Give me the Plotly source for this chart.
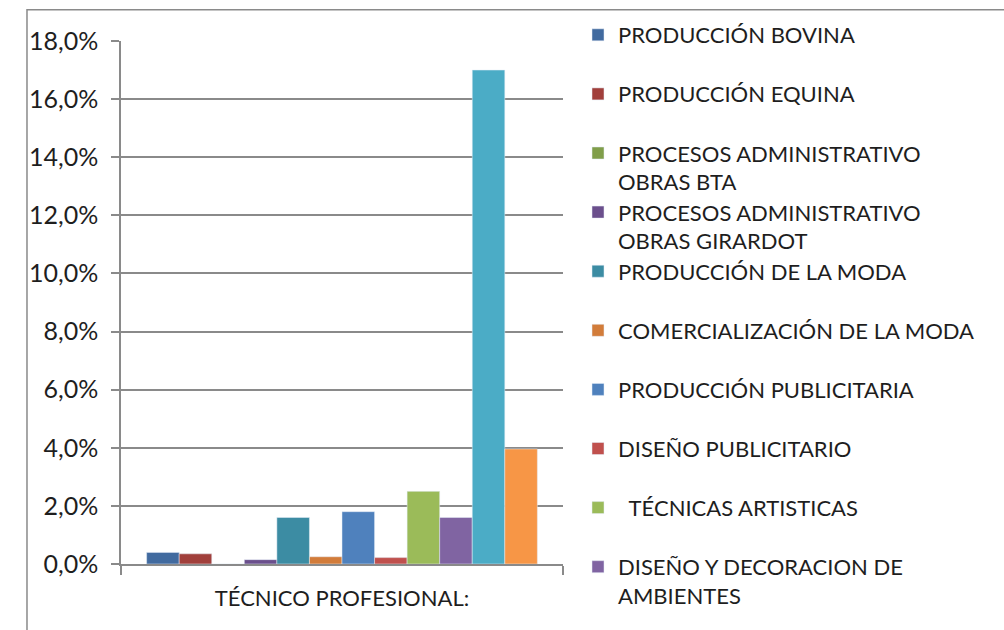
import plotly.graph_objects as go

categoria = ["TÉCNICO PROFESIONAL:"]

programas = [
    "PRODUCCIÓN BOVINA",
    "PRODUCCIÓN EQUINA",
    "PROCESOS ADMINISTRATIVO<br>OBRAS BTA",
    "PROCESOS ADMINISTRATIVO<br>OBRAS GIRARDOT",
    "PRODUCCIÓN DE LA MODA",
    "COMERCIALIZACIÓN DE LA MODA",
    "PRODUCCIÓN PUBLICITARIA",
    "DISEÑO PUBLICITARIO",
    "  TÉCNICAS ARTISTICAS",
    "DISEÑO Y DECORACION DE<br>AMBIENTES",
    "Serie 11",
    "Serie 12",
]
# porcentaje (%)
valores = [0.4, 0.35, 0.0, 0.15, 1.6, 0.25, 1.8, 0.22, 2.5, 1.6, 17.0, 3.96]

colores = [
    "#416A9F", "#A13F3B", "#809E4A", "#6B4F8C", "#3C8CA3", "#D27C3A",
    "#4F81BD", "#C0504D", "#9BBB59", "#8064A2", "#4BACC6", "#F79646",
]

GRIS = "#8A8A8A"
FUENTE = "Lato, Arial, sans-serif"

fig = go.Figure()
n_leyenda = 10
for i, (nombre, v, c) in enumerate(zip(programas, valores, colores)):
    ley = "legend" if i == 0 else f"legend{i + 1}"
    fig.add_trace(go.Bar(
        x=categoria, y=[v], name=nombre, marker_color=c,
        showlegend=i < n_leyenda,
        legend=ley if i < n_leyenda else None,
    ))

# una leyenda por serie para fijar el espaciado como en el original
leyendas = {}
for i in range(n_leyenda):
    clave = "legend" if i == 0 else f"legend{i + 1}"
    y_px = 36 + i * 59.1
    leyendas[clave] = dict(
        xref="container", yref="container",
        x=578 / 1004, y=1 - (y_px - 22) / 630,
        xanchor="left", yanchor="top",
        valign="top",
        font=dict(family=FUENTE, size=22, color="#1e1e1e"),
        bgcolor="rgba(0,0,0,0)",
    )

fig.update_layout(
    **leyendas,
    barmode="group",
    bargap=0.116,
    bargroupgap=0,
    width=1004,
    height=630,
    plot_bgcolor="white",
    paper_bgcolor="white",
    separators=",.",
    font=dict(family=FUENTE, color="#1e1e1e"),
    margin=dict(l=121, r=441, t=41, b=66),
    xaxis=dict(
        showline=True, linecolor=GRIS, linewidth=1.5,
        ticks="outside", tickson="boundaries", ticklen=9,
        tickcolor=GRIS, tickwidth=1.5,
        ticklabelstandoff=14,
        showgrid=False,
        tickfont=dict(family=FUENTE, size=22, color="#1e1e1e"),
    ),
    yaxis=dict(
        range=[0, 18], dtick=2,
        tickformat=".1f", ticksuffix="%",
        showline=True, linecolor=GRIS, linewidth=1.5,
        ticks="outside", ticklen=8, tickcolor=GRIS, tickwidth=1.5,
        ticklabelstandoff=8,
        showgrid=True, gridcolor=GRIS, gridwidth=1.5,
        zeroline=False,
        tickfont=dict(family=FUENTE, size=25, color="#1e1e1e"),
    ),
    shapes=[dict(
        type="rect", xref="paper", yref="paper",
        x0=-0.2127, x1=2.0, y0=-0.5, y1=1.0598,
        line=dict(color=GRIS, width=1.5), layer="below",
    )],
)

fig.write_html(
    "out.html",
    config={"displayModeBar": False},
    post_script="document.body.style.margin='0';",
)
